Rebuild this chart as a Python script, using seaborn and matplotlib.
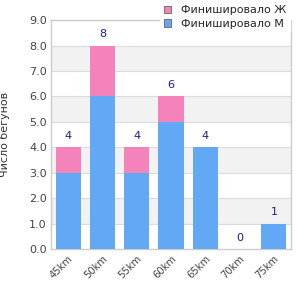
import matplotlib
matplotlib.use("Agg")
import matplotlib.pyplot as plt
import matplotlib.transforms as mtransforms
import seaborn as sns
import pandas as pd
from matplotlib.patches import Patch

categories = ["45km", "50km", "55km", "60km", "65km", "70km", "75km"]
men = [3, 6, 3, 5, 4, 0, 1]
women = [1, 2, 1, 1, 0, 0, 0]
yticks = [0, 1, 2, 3, 4, 5, 6, 7, 8, 9]

totals = [m + w for m, w in zip(men, women)]
df = pd.DataFrame({"cat": categories, "men": men, "women": women, "total": totals})

sns.set_theme(style="white")
plt.rcParams['font.family'] = ['DejaVu Sans']

blue = "#62A8F5"
pink = "#F383BA"
navy = "#1C1C8E"

fig = plt.figure(figsize=(3, 3), dpi=100)
ax = fig.add_axes([0.17, 0.17, 0.80, 0.763])

for i in range(0, 9):
    if i % 2 == 1:
        ax.axhspan(i, i + 1, color="#F2F2F2", zorder=0, lw=0)
for y in yticks[1:]:
    ax.axhline(y, color="#DCDCDC", lw=0.8, zorder=0.5)

sns.barplot(data=df, x="cat", y="total", color=pink, width=0.73, ax=ax,
            saturation=1, zorder=2, linewidth=0)
sns.barplot(data=df, x="cat", y="men", color=blue, width=0.73, ax=ax,
            saturation=1, zorder=3, linewidth=0)

for i, t in enumerate(totals):
    ax.text(i, t + 0.25, str(t), ha="center", va="bottom", color=navy, fontsize=8, zorder=4)

ax.set_ylim(0, 9)
ax.set_xlim(-0.5, len(categories) - 0.5)
ax.set_yticks(yticks)
ax.set_yticklabels([f"{v:.1f}" for v in yticks], fontsize=8, color="#444444")
ax.set_xticks(range(len(categories)))
ax.set_xticklabels(categories, rotation=45, ha="right", rotation_mode="anchor",
                   fontsize=7.2, color="#444444")
offset = mtransforms.ScaledTranslation(-10 / 100, -7 / 100, fig.dpi_scale_trans)
for lab in ax.get_xticklabels():
    lab.set_transform(lab.get_transform() + offset)
ax.tick_params(axis="both", length=0, pad=3)
ax.set_xlabel("")
ax.set_ylabel("Число бегунов", fontsize=8, color="#333333", labelpad=14)

for s in ["left", "bottom", "right", "top"]:
    ax.spines[s].set_color("#CCCCCC")
    ax.spines[s].set_linewidth(1)

handles = [Patch(facecolor=pink, edgecolor="#777777", lw=0.8, label="Финишировало Ж"),
           Patch(facecolor=blue, edgecolor="#777777", lw=0.8, label="Финишировало М")]
leg = fig.legend(handles=handles, loc="upper right", bbox_to_anchor=(0.985, 1.012),
                 frameon=True, fontsize=8, handlelength=0.7, handleheight=0.7,
                 handletextpad=0.9, labelspacing=0.35, borderpad=0.3)
leg.get_frame().set_facecolor("white")
leg.get_frame().set_edgecolor("white")
leg.get_frame().set_alpha(1)
leg.set_zorder(10)

fig.savefig("out.png", dpi=100)
